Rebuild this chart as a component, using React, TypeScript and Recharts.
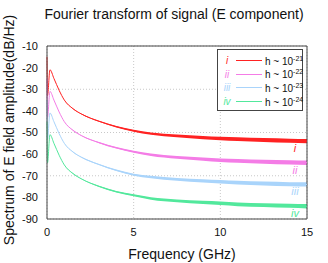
import React from "react";
import {
  ComposedChart,
  Line,
  Area,
  XAxis,
  YAxis,
  CartesianGrid,
  ReferenceLine,
  Label,
} from "recharts";

// frequency samples (GHz)
const freqs = [0, 0.03, 0.17, 0.4, 0.7, 1, 1.5, 2, 3, 4, 5, 6, 7.5, 9, 10, 11, 12.5, 14, 15];

// spectrum values (dB/Hz)
const seriesI = [-15, -33, -21, -25, -30.5, -35, -39, -41.5, -44.8, -47.3, -49.2, -50.5, -51.6, -52.4, -52.8, -53.1, -53.5, -53.8, -54];
const seriesII = [-25, -43, -31, -35, -40.5, -45, -49, -51.5, -54.7, -57.1, -58.9, -60.3, -61.5, -62.3, -62.8, -63.1, -63.5, -63.8, -64];
const seriesIII = [-35, -53, -41, -45, -50.5, -55, -59, -61.5, -64.8, -67.5, -69.5, -70.6, -71.7, -72.4, -72.8, -73.2, -73.6, -73.9, -74];
const seriesIV = [-45, -64, -51, -55, -60.5, -65, -69, -71.5, -74.9, -77.4, -79, -80.5, -81.6, -82.3, -82.7, -83.2, -83.6, -83.9, -84.1];

// thickness of the noisy band around each curve (dB)
const bandWidth = [0, 0, 0, 0, 0, 0, 0.2, 0.3, 0.5, 0.7, 0.9, 1.1, 1.3, 1.5, 1.6, 1.7, 1.8, 1.9, 2];

const yTicks = [-90, -80, -70, -60, -50, -40, -30, -20, -10];
const xTicks = [0, 5, 10, 15];

const series = [
  { key: "s1", roman: "i", exp: "-21", color: "#ff2222", values: seriesI },
  { key: "s2", roman: "ii", exp: "-22", color: "#f47ce6", values: seriesII },
  { key: "s3", roman: "iii", exp: "-23", color: "#a9d4fb", values: seriesIII },
  { key: "s4", roman: "iv", exp: "-24", color: "#52e89c", values: seriesIV },
];

const data = freqs.map((f, i) => {
  const row: Record<string, number | number[]> = { f };
  series.forEach((s) => {
    row[s.key] = s.values[i];
    row[s.key + "band"] = [s.values[i] - bandWidth[i] / 2, s.values[i] + bandWidth[i] / 2];
  });
  return row;
});

const FONT = "'Liberation Sans', Arial, sans-serif";

function EndLabel(roman: string, color: string) {
  return (props: any) => {
    const { x, y, index } = props;
    if (index !== freqs.length - 1) return null;
    return (
      <text
        x={x - 12}
        y={y + 11}
        fill={color}
        fontSize={11}
        fontStyle="italic"
        fontFamily={FONT}
        textAnchor="middle"
      >
        {roman}
      </text>
    );
  };
}

function LegendBox() {
  return (
    <div
      style={{
        position: "absolute",
        left: 217,
        top: 49,
        width: 86,
        height: 62,
        border: "1px solid #444",
        background: "#fff",
        fontFamily: FONT,
        fontSize: 10,
        boxSizing: "border-box",
      }}
    >
      {series.map((s, i) => (
        <div
          key={s.key}
          style={{ position: "absolute", left: 0, top: 4 + i * 13.7, height: 13, width: 86, display: "flex", alignItems: "center" }}
        >
          <span style={{ width: 18, textAlign: "center", color: s.color, fontStyle: "italic" }}>{s.roman}</span>
          <span style={{ width: 26, height: 0, borderTop: `1px solid ${s.color}`, marginRight: 3 }} />
          <span style={{ color: "#111", whiteSpace: "nowrap" }}>
            h ~ 10<sup style={{ fontSize: 7, verticalAlign: 4 }}>{s.exp}</sup>
          </span>
        </div>
      ))}
    </div>
  );
}

export default function App() {
  return (
    <div style={{ position: "absolute", left: 0, top: 0, width: 328, height: 263, background: "#fff" }}>
      <div
        style={{
          position: "absolute",
          left: 0,
          width: 348,
          top: 6,
          textAlign: "center",
          fontFamily: FONT,
          fontSize: 14,
          color: "#111",
          whiteSpace: "nowrap",
        }}
      >
        Fourier transform of signal (E component)
      </div>
      <ComposedChart
        width={328}
        height={263}
        data={data}
        margin={{ top: 46, right: 21, bottom: 0, left: 0 }}
      >
        <CartesianGrid stroke="#c8c8c8" strokeDasharray="1 2" />
        <XAxis
          dataKey="f"
          type="number"
          domain={[0, 15]}
          ticks={xTicks}
          height={44}
          stroke="#444"
          tickLine={false}
          tick={{ fontSize: 11, fill: "#111", fontFamily: FONT }}
          tickMargin={3}
        >
          <Label
            content={() => (
              <text x={182} y={259} textAnchor="middle" fontSize={14} fontFamily={FONT} fill="#111">
                Frequency (GHz)
              </text>
            )}
          />
        </XAxis>
        <YAxis
          type="number"
          domain={[-90, -10]}
          ticks={yTicks}
          width={47}
          stroke="#444"
          tickLine={false}
          tick={{ fontSize: 11, fill: "#111", fontFamily: FONT }}
          tickMargin={3}
        >
          <Label
            content={() => (
              <text
                x={14}
                y={130}
                transform="rotate(-90 14 130)"
                textAnchor="middle"
                fontSize={14}
                fontFamily={FONT}
                fill="#111"
              >
                Spectrum of E field amplitude(dB/Hz)
              </text>
            )}
          />
        </YAxis>
        <ReferenceLine y={-10} stroke="#444" />
        <ReferenceLine x={15} stroke="#444" />
        {series.map((s) => (
          <Area
            key={s.key + "band"}
            dataKey={s.key + "band"}
            type="monotoneX"
            stroke="none"
            fill={s.color}
            fillOpacity={1}
            isAnimationActive={false}
          />
        ))}
        {series.map((s) => (
          <Line
            key={s.key}
            dataKey={s.key}
            type="monotoneX"
            stroke={s.color}
            strokeWidth={1}
            dot={false}
            label={EndLabel(s.roman, s.color)}
            isAnimationActive={false}
          />
        ))}
      </ComposedChart>
      <LegendBox />
    </div>
  );
}
